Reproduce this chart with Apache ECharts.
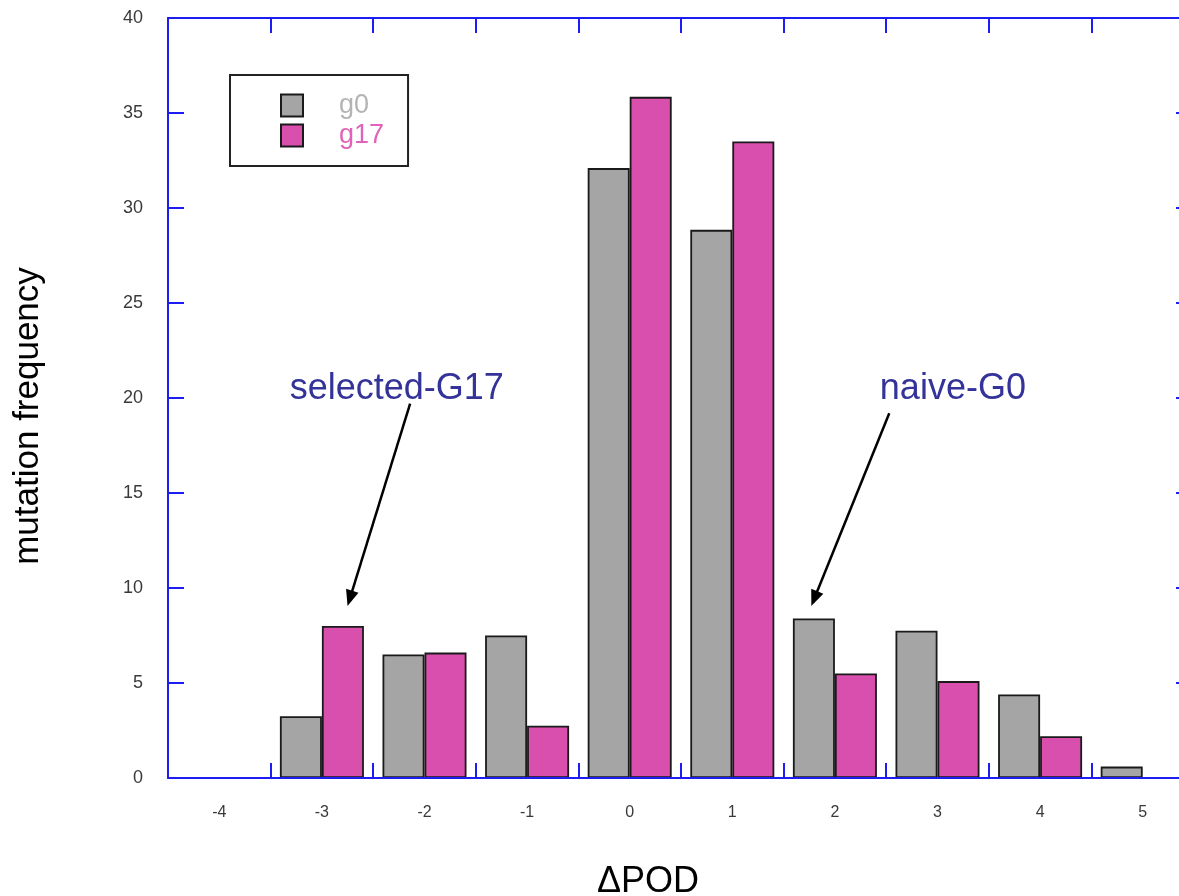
<!DOCTYPE html>
<html>
<head>
<meta charset="utf-8">
<title>mutation frequency vs ΔPOD</title>
<script src="https://cdn.jsdelivr.net/npm/echarts@6/dist/echarts.min.js"></script>
<style>
  html, body { margin: 0; padding: 0; background: #ffffff; }
  #chart { width: 1179px; height: 896px; }
</style>
</head>
<body>
<div id="chart"></div>
<script>
// ΔPOD classes along the x axis
const categories = ['-4', '-3', '-2', '-1', '0', '1', '2', '3', '4', '5'];
// mutation frequency per class, generation 0 and generation 17
const g0 = [null, 3.25, 6.5, 7.5, 32.1, 28.85, 8.4, 7.75, 4.4, 0.6];
const g17 = [null, 8.0, 6.6, 2.75, 35.85, 33.5, 5.5, 5.1, 2.2, null];
// y axis range and step
const yMin = 0, yMax = 40, yStep = 5;
// callouts, anchored in (ΔPOD, frequency) units
const callouts = [
  { text: 'selected-G17', label: [-2.27, 20.45], from: [-2.14, 19.7], to: [-2.75, 9.05] },
  { text: 'naive-G0', label: [3.15, 20.45], from: [2.53, 19.2], to: [1.77, 9.05] }
];

const FONT = "'Liberation Sans', Arial, Helvetica, sans-serif";
const AXIS_BLUE = '#1c1cf5';
const GREY = '#a5a5a5';
const PINK = '#d94fae';

const chart = echarts.init(document.getElementById('chart'), null, { renderer: 'canvas' });

const frameLine = { show: true, onZero: false, lineStyle: { color: AXIS_BLUE, width: 2 } };
function innerTick(len) {
  return { show: true, inside: true, length: len, lineStyle: { color: AXIS_BLUE, width: 2 } };
}

const option = {
  backgroundColor: '#ffffff',
  animation: false,
  textStyle: { fontFamily: FONT },
  grid: {
    left: 168, top: 18, width: 1026, height: 760,
    containLabel: false, outerBoundsMode: 'none'
  },
  legend: {
    left: 230, top: 75,
    orient: 'vertical',
    padding: [17, 24, 17, 50],
    itemGap: 3,
    itemWidth: 22, itemHeight: 22,
    icon: 'rect',
    borderColor: '#222222', borderWidth: 2,
    backgroundColor: '#ffffff',
    textStyle: { fontSize: 27, fontFamily: FONT, padding: [0, 0, 0, 31] },
    itemStyle: { borderColor: '#1a1a1a', borderWidth: 2 },
    data: [
      { name: 'g0', textStyle: { color: '#b4b4b4' } },
      { name: 'g17', textStyle: { color: '#e063b9' } }
    ]
  },
  xAxis: [
    {
      type: 'category', data: categories, position: 'bottom', boundaryGap: true, z: 5,
      name: 'ΔPOD', nameLocation: 'middle', nameGap: 86,
      nameTextStyle: { fontSize: 36, color: '#000000', fontFamily: FONT, padding: [0, 66, 0, 0] },
      axisLine: frameLine, axisTick: innerTick(15),
      axisLabel: { margin: 27, fontSize: 16, color: '#3a3a3a', fontFamily: FONT },
      splitLine: { show: false }
    },
    {
      type: 'category', data: categories, position: 'top', boundaryGap: true, z: 5,
      axisLine: frameLine, axisTick: innerTick(15),
      axisLabel: { show: false }, splitLine: { show: false }
    },
    {
      // ΔPOD as a continuous scale over the same span, used to place callouts
      type: 'value', min: -4.5, max: 5.5, show: false,
      axisLine: { onZero: false }
    }
  ],
  yAxis: [
    {
      type: 'value', min: yMin, max: yMax, interval: yStep, position: 'left', z: 5,
      name: 'mutation frequency', nameLocation: 'middle', nameGap: 122, nameRotate: 90,
      nameTextStyle: { fontSize: 35, color: '#000000', fontFamily: FONT, padding: [0, 36, 0, 0] },
      axisLine: frameLine, axisTick: innerTick(16),
      axisLabel: { margin: 25, fontSize: 18, color: '#3a3a3a', fontFamily: FONT },
      splitLine: { show: false }
    },
    {
      type: 'value', min: yMin, max: yMax, interval: yStep, position: 'right', z: 5,
      axisLine: frameLine, axisTick: innerTick(18),
      axisLabel: { show: false }, splitLine: { show: false }
    }
  ],
  series: [
    {
      name: 'g0', type: 'bar', data: g0, xAxisIndex: 0, yAxisIndex: 0,
      barWidth: 42, barGap: '0%',
      itemStyle: { color: GREY, borderColor: '#1a1a1a', borderWidth: 1.8 }
    },
    {
      name: 'g17', type: 'bar', data: g17, xAxisIndex: 0, yAxisIndex: 0,
      barWidth: 42, barGap: '0%',
      itemStyle: { color: PINK, borderColor: '#1a1a1a', borderWidth: 1.8 }
    }
  ]
};

chart.setOption(option);

// callout text and arrows, positioned through the chart's own scales
function toPx(p) {
  return chart.convertToPixel({ xAxisIndex: 2, yAxisIndex: 0 }, p);
}
const elements = [];
callouts.forEach(function (c) {
  const lp = toPx(c.label);
  const a = toPx(c.from);
  const b = toPx(c.to);
  const dx = b[0] - a[0], dy = b[1] - a[1];
  const len = Math.sqrt(dx * dx + dy * dy);
  const ux = dx / len, uy = dy / len;
  const headLen = 16, headW = 13;
  const baseX = b[0] - ux * headLen, baseY = b[1] - uy * headLen;
  elements.push({
    type: 'text', z: 20,
    style: {
      text: c.text, x: lp[0], y: lp[1], align: 'center', verticalAlign: 'middle',
      fontSize: 36, fontFamily: FONT, fill: '#333399'
    }
  });
  elements.push({
    type: 'line', z: 20,
    shape: { x1: a[0], y1: a[1], x2: baseX + ux * 2, y2: baseY + uy * 2 },
    style: { stroke: '#000000', lineWidth: 2.5 }
  });
  elements.push({
    type: 'polygon', z: 20,
    shape: {
      points: [
        [b[0], b[1]],
        [baseX - uy * headW / 2, baseY + ux * headW / 2],
        [baseX + uy * headW / 2, baseY - ux * headW / 2]
      ]
    },
    style: { fill: '#000000' }
  });
});
chart.setOption({ graphic: { elements: elements } });
</script>
</body>
</html>
